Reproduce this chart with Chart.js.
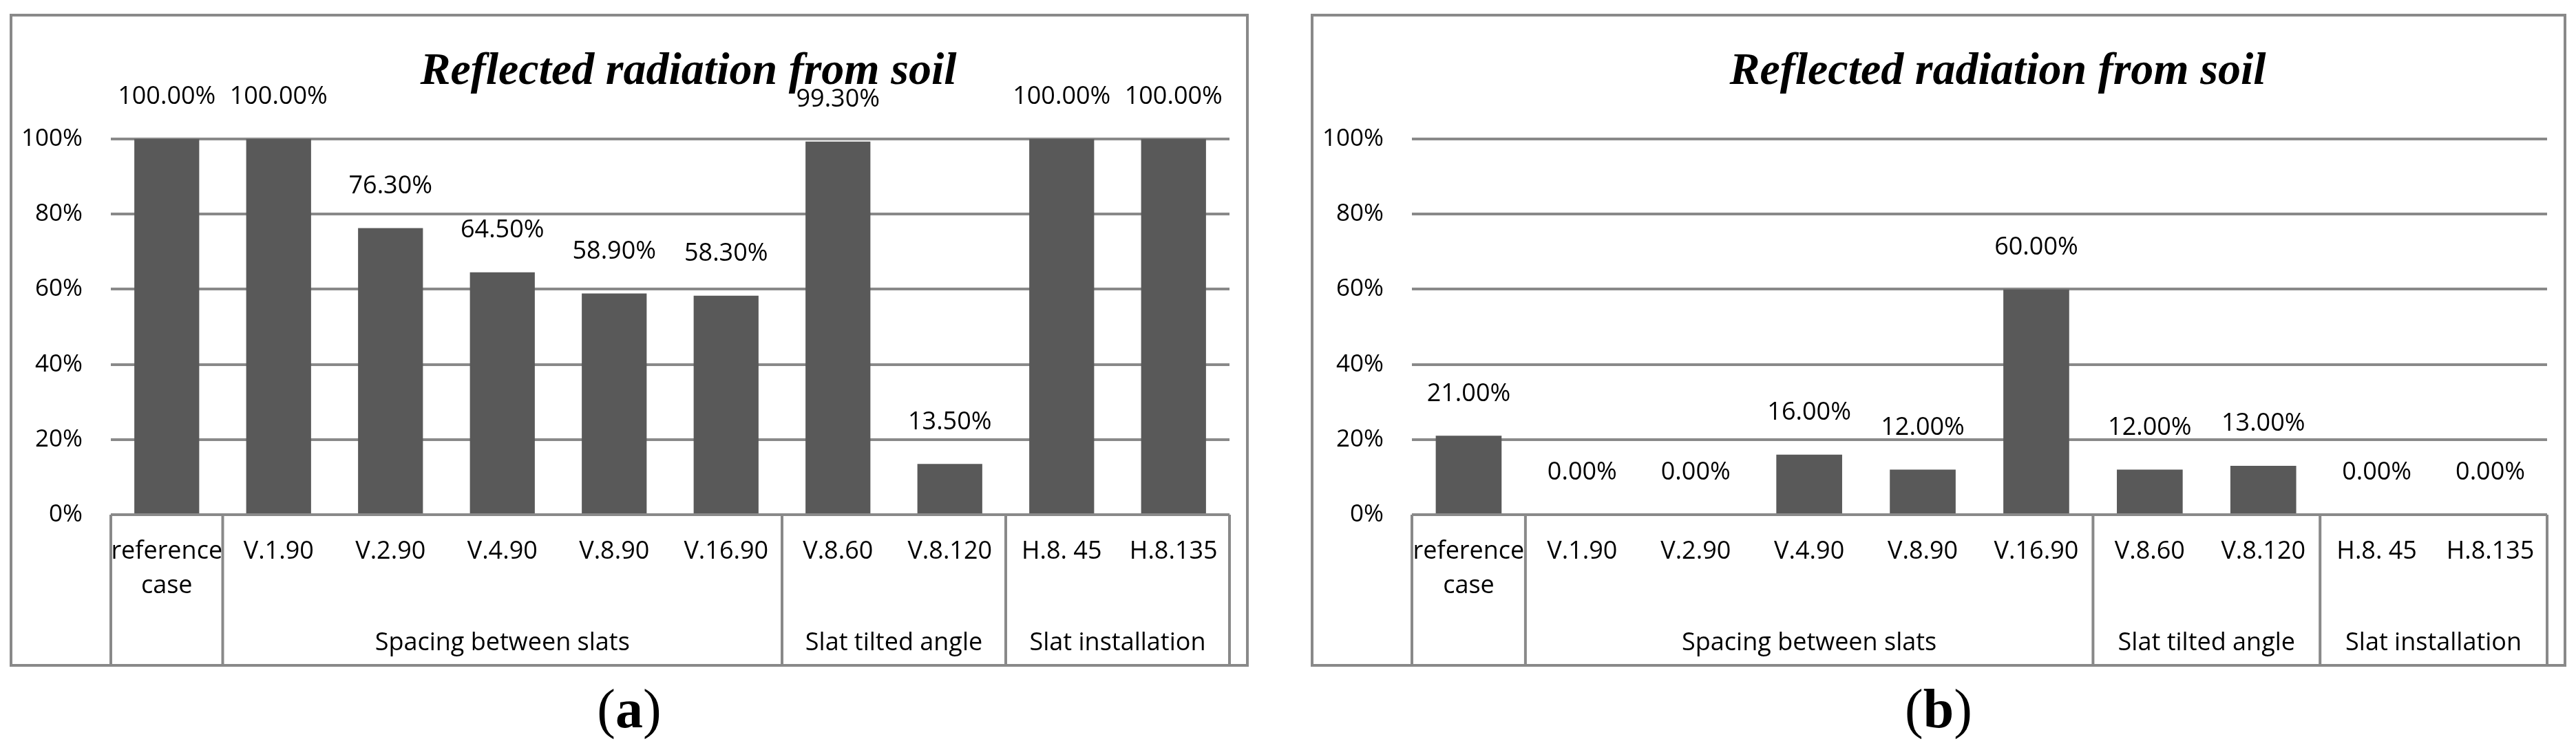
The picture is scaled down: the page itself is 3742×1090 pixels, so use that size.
<!DOCTYPE html>
<html>
<head>
<meta charset="utf-8">
<title>Reflected radiation from soil</title>
<script src="https://cdn.jsdelivr.net/npm/chart.js@4.4.1/dist/chart.umd.min.js"></script>
<style>
  body { margin: 0; background: #fff; width: 3742px; height: 1090px; position: relative; overflow: hidden; }
  .panel { position: absolute; top: 20px; height: 949px; border: 4px solid #898989; box-sizing: border-box; }
  #panelA { left: 14px; width: 1800px; }
  #panelB { left: 1904px; width: 1824px; }
  .panel canvas { display: block; }
  .caption { position: absolute; top: 990px; font-family: "Liberation Serif", serif; font-size: 80px; line-height: 80px; text-align: center; color: #000; }
</style>
</head>
<body>
<div class="panel" id="panelA"><canvas id="chartA" width="1792" height="941"></canvas></div>
<div class="panel" id="panelB"><canvas id="chartB" width="1816" height="941"></canvas></div>
<div class="caption" style="left:14px;width:1800px">(<b>a</b>)</div>
<div class="caption" style="left:1904px;width:1824px">(<b>b</b>)</div>

<script>
// datos
const chartTitle = "Reflected radiation from soil";
const categories = [["reference", "case"], "V.1.90", "V.2.90", "V.4.90", "V.8.90", "V.16.90", "V.8.60", "V.8.120", "H.8. 45", "H.8.135"];
const valuesA = [100, 100, 76.3, 64.5, 58.9, 58.3, 99.3, 13.5, 100, 100];
const valuesB = [21, 0, 0, 16, 12, 60, 12, 13, 0, 0];
const yTicks = [0, 20, 40, 60, 80, 100];

// grupos del eje de categorías (índice inicial y final)
const groupNames = ["Spacing between slats", "Slat tilted angle", "Slat installation"];
const groupFirst = [1, 6, 8];
const groupLast = [5, 7, 9];

const GRID = "#898989";
const BAR = "#595959";
const SANS = '"Open Sans", sans-serif';

const decor = {
    id: "decor",
    afterDatasetsDraw(chart) {
        const ctx = chart.ctx;
        const meta = chart.getDatasetMeta(0);
        const data = chart.data.datasets[0].data;
        ctx.save();
        ctx.fillStyle = "#000";
        ctx.font = "36px " + SANS;
        ctx.textAlign = "center";
        ctx.textBaseline = "middle";
        meta.data.forEach((bar, i) => {
            ctx.fillText(data[i].toFixed(2) + "%", bar.x, bar.y - 61);
        });
        ctx.restore();
    },
    afterDraw(chart) {
        const ctx = chart.ctx;
        const area = chart.chartArea;
        const x = chart.scales.x;
        const mid = (a, b) => (x.getPixelForValue(a) + x.getPixelForValue(b)) / 2;

        ctx.save();
        // título
        ctx.fillStyle = "#000";
        ctx.font = 'italic bold 66px "Liberation Serif", serif';
        ctx.textAlign = "center";
        ctx.textBaseline = "alphabetic";
        ctx.fillText(chartTitle, chart.width / 2 + 86, 98);

        // cajas del eje de categorías
        const edges = [x.left, x.right];
        groupFirst.forEach(f => edges.push(mid(f - 1, f)));
        ctx.strokeStyle = GRID;
        ctx.lineWidth = 4;
        edges.forEach(e => {
            ctx.beginPath();
            ctx.moveTo(e, area.bottom);
            ctx.lineTo(e, chart.height);
            ctx.stroke();
        });

        // etiquetas de grupo
        ctx.font = "36px " + SANS;
        ctx.textBaseline = "middle";
        groupNames.forEach((name, g) => {
            const left = mid(groupFirst[g] - 1, groupFirst[g]);
            const right = groupLast[g] === categories.length - 1 ? x.right : mid(groupLast[g], groupLast[g] + 1);
            ctx.fillText(name, (left + right) / 2, 911);
        });
        ctx.restore();
    }
};

function crearGrafico(id, values) {
    return new Chart(document.getElementById(id), {
        type: "bar",
        data: {
            labels: categories,
            datasets: [{
                data: values,
                backgroundColor: BAR,
                borderWidth: 0,
                barPercentage: 0.58,
                categoryPercentage: 1
            }]
        },
        options: {
            responsive: false,
            animation: false,
            layout: { padding: { top: 178, right: 24, left: 0, bottom: 0 } },
            plugins: {
                legend: { display: false },
                tooltip: { enabled: false },
                title: { display: false }
            },
            scales: {
                x: {
                    grid: { display: false, drawTicks: false },
                    border: { display: false },
                    ticks: {
                        autoSkip: false,
                        maxRotation: 0,
                        padding: 29,
                        color: "#000",
                        font: { family: SANS, size: 36, lineHeight: 1.39 }
                    },
                    afterFit: s => { s.height = 217; }
                },
                y: {
                    min: 0,
                    max: 100,
                    afterBuildTicks: s => { s.ticks = yTicks.map(v => ({ value: v })); },
                    grid: { color: GRID, lineWidth: 4, drawTicks: false },
                    border: { display: false },
                    ticks: {
                        padding: 41,
                        color: "#000",
                        font: { family: SANS, size: 35 },
                        callback: v => v + "%"
                    },
                    afterFit: s => { s.width = 143; }
                }
            }
        },
        plugins: [decor]
    });
}

crearGrafico("chartA", valuesA);
crearGrafico("chartB", valuesB);
</script>
</body>
</html>
